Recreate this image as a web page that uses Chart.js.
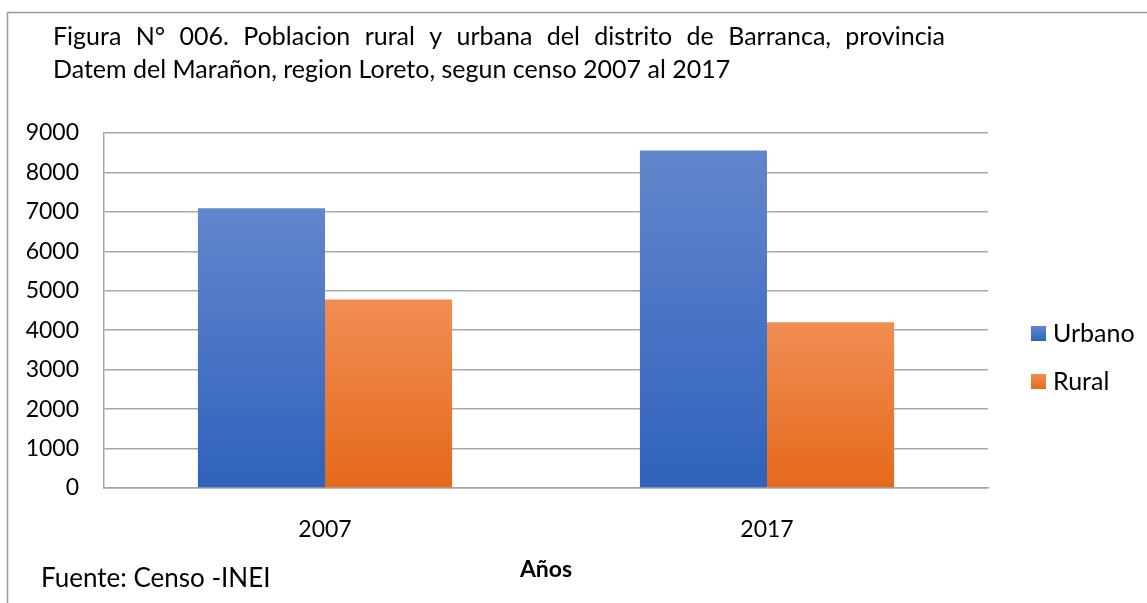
<!DOCTYPE html>
<html>
<head>
<meta charset="utf-8">
<script src="https://cdn.jsdelivr.net/npm/chart.js@4"></script>
<style>
  html, body { margin: 0; padding: 0; background: #fff; }
  #wrap { width: 1147px; height: 603px; position: relative; }
</style>
</head>
<body>
<div id="wrap"><canvas id="chartCanvas" width="1147" height="603"></canvas></div>
<script>
const years = ["2007", "2017"];
const urbano = [7090, 8555];
const rural = [4780, 4200];
const yTicks = [0, 1000, 2000, 3000, 4000, 5000, 6000, 7000, 8000, 9000];
const titleLines = [
  "Figura N° 006. Poblacion rural y urbana del distrito de Barranca, provincia",
  "Datem del Marañon, region Loreto, segun censo 2007 al 2017"
];
const axisTitle = "Años";
const sourceText = "Fuente: Censo -INEI";

const FONT = "Lato";
const TICK_FS = 23;
const TEXT_FS = 25;

const colors = {
  Urbano: ["#6286cc", "#2f62bd"],
  Rural: ["#f18d53", "#e5691b"]
};

// gradient per bar, light on top like the Excel fill
function barFill(name) {
  return function (c) {
    const chart = c.chart;
    if (!chart.chartArea || c.raw === undefined) return colors[name][1];
    const y = chart.scales.y;
    const top = y.getPixelForValue(c.raw);
    const base = y.getPixelForValue(0);
    const g = chart.ctx.createLinearGradient(0, top, 0, base);
    g.addColorStop(0, colors[name][0]);
    g.addColorStop(1, colors[name][1]);
    return g;
  };
}

const decor = {
  id: "decor",
  afterDraw(chart) {
    const ctx = chart.ctx;
    ctx.save();
    // frame
    ctx.strokeStyle = "#9a9a9a";
    ctx.lineWidth = 1.5;
    ctx.beginPath();
    ctx.moveTo(7.5, 603);
    ctx.lineTo(7.5, 12.5);
    ctx.lineTo(1147, 12.5);
    ctx.stroke();

    ctx.fillStyle = "#000";
    ctx.font = TEXT_FS + "px " + FONT;
    ctx.textBaseline = "alphabetic";
    ctx.textAlign = "left";
    // first title line is justified
    const words = titleLines[0].split(" ");
    const left = 53, right = 945;
    const wsum = words.reduce((s, w) => s + ctx.measureText(w).width, 0);
    const gap = (right - left - wsum) / (words.length - 1);
    let x = left;
    words.forEach(w => {
      ctx.fillText(w, x, 45);
      x += ctx.measureText(w).width + gap;
    });
    ctx.fillText(titleLines[1], left, 78);

    ctx.font = "26px " + FONT;
    ctx.fillText(sourceText, 41, 587);

    // legend
    ctx.font = TEXT_FS + "px " + FONT;
    const ds = chart.data.datasets;
    ds.forEach((d, i) => {
      const by = 326 + i * 48;
      const g = ctx.createLinearGradient(0, by, 0, by + 15);
      g.addColorStop(0, colors[d.label][0]);
      g.addColorStop(1, colors[d.label][1]);
      ctx.fillStyle = g;
      ctx.fillRect(1031, by, 15, 15);
      ctx.fillStyle = "#000";
      ctx.textBaseline = "middle";
      ctx.fillText(d.label, 1053, by + 8);
    });
    ctx.restore();
  }
};

new Chart(document.getElementById("chartCanvas").getContext("2d"), {
  type: "bar",
  data: {
    labels: years,
    datasets: [
      { label: "Urbano", data: urbano, backgroundColor: barFill("Urbano") },
      { label: "Rural", data: rural, backgroundColor: barFill("Rural") }
    ]
  },
  options: {
    responsive: false,
    animation: false,
    layout: { padding: { top: 133, right: 159, bottom: 0, left: 0 } },
    plugins: { legend: { display: false }, tooltip: { enabled: false }, title: { display: false } },
    datasets: { bar: { categoryPercentage: 0.575, barPercentage: 1 } },
    scales: {
      x: {
        grid: { display: false },
        border: { display: true, color: "#a3a3a3", width: 1.5 },
        ticks: { color: "#000", font: { family: FONT, size: TICK_FS }, padding: 20 },
        title: {
          display: true, text: axisTitle, color: "#000",
          font: { family: FONT, size: TICK_FS, weight: "bold" },
          padding: { top: 0, bottom: 20 }
        },
        afterFit(scale) { scale.height = 115; }
      },
      y: {
        min: 0, max: 9000,
        afterBuildTicks(scale) { scale.ticks = yTicks.map(v => ({ value: v })); },
        grid: { color: "#a8a8a8", lineWidth: 1.5, drawTicks: false },
        border: { display: true, color: "#a8a8a8", width: 1.5 },
        ticks: {
          color: "#000", font: { family: FONT, size: TICK_FS }, padding: 25,
          callback: v => String(v)
        },
        afterFit(scale) { scale.width = 104; }
      }
    }
  },
  plugins: [decor]
});
</script>
</body>
</html>
